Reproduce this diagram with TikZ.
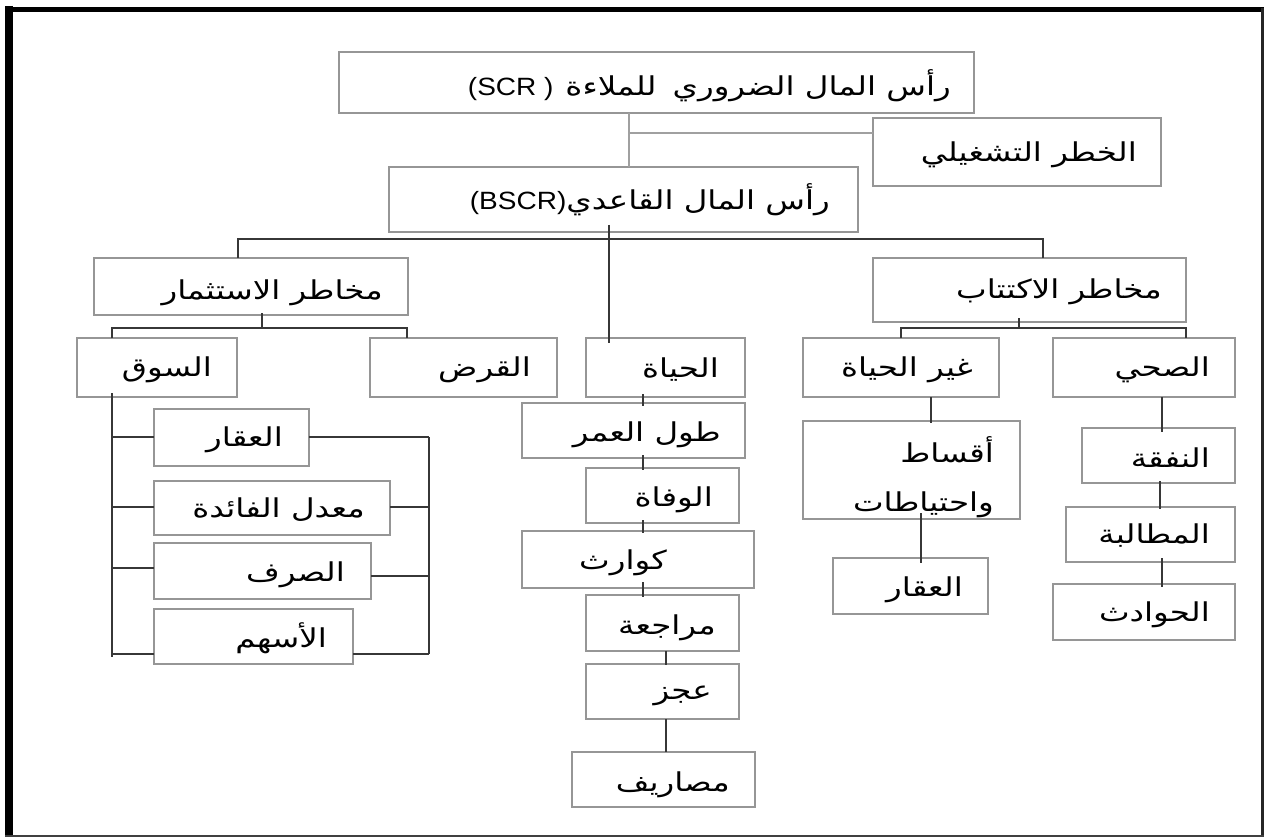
\documentclass[tikz,border=0pt]{standalone}
\usepackage{fontspec}
\newfontfamily\arabicfont[Script=Arabic, FakeStretch=1.25]{DejaVu Sans}
\newfontfamily\latinfont[Script=Latin, FakeStretch=1.12]{Liberation Sans}
\TeXXeTstate=1
\definecolor{boxgray}{RGB}{150,150,150}
\definecolor{linedark}{RGB}{55,55,55}
\definecolor{lightline}{RGB}{160,160,160}
\newcommand\mkbox[5]{\node[box, minimum width={(#4)-(#2)}, minimum height={(#5)-(#3)}] (#1) at ({((#2)+(#4))/2},{((#3)+(#5))/2}) {};}
\newcommand\ar[1]{\beginR #1\endR}
\newcommand\arb[1]{{\arabicfont\fontsize{26}{30}\selectfont\beginR #1\endR}}
\tikzset{
  box/.style={draw=boxgray, line width=1.3pt, inner sep=0pt, outer sep=0pt, fill=white},
  conn/.style={draw=linedark, line width=2.2pt},
  thinconn/.style={draw=lightline, line width=1.1pt},
  lbl/.style={font=\arabicfont\fontsize{26}{30}\selectfont, inner sep=0pt, anchor=east, text=black},
  mixlbl/.style={lbl, font=\latinfont\fontsize{25}{30}\selectfont}
}
\begin{document}
\begin{tikzpicture}[x=1pt,y=-1pt]
\useasboundingbox (0,0) rectangle (1264,837);
\fill[white] (0,0) rectangle (1264,837);
% frame
\draw[line width=8pt, black] (9,6) -- (9,837);
\draw[line width=5pt, black] (5,9.5) -- (1264,9.5);
\draw[line width=3pt, black!85] (1262.5,8) -- (1262.5,837);
\draw[line width=2pt, black!75] (5,836) -- (1264,836);

% boxes
\mkbox{scr}{339}{52}{974}{113}
\mkbox{opr}{873}{118}{1161}{186}
\mkbox{bscr}{389}{167}{858}{232}
\mkbox{inv}{94}{258}{408}{315}
\mkbox{und}{873}{258}{1186}{322}
\mkbox{mkt}{77}{338}{237}{397}
\mkbox{crd}{370}{338}{557}{397}
\mkbox{life}{586}{338}{745}{397}
\mkbox{nonlife}{803}{338}{999}{397}
\mkbox{health}{1053}{338}{1235}{397}
\mkbox{reA}{154}{409}{309}{466}
\mkbox{irate}{154}{481}{390}{535}
\mkbox{fx}{154}{543}{371}{599}
\mkbox{eq}{154}{609}{353}{664}
\mkbox{lon}{522}{403}{745}{458}
\mkbox{mort}{586}{468}{739}{523}
\mkbox{cat}{522}{531}{754}{588}
\mkbox{rev}{586}{595}{739}{651}
\mkbox{dis}{586}{664}{739}{719}
\mkbox{expn}{572}{752}{755}{807}
\mkbox{prem}{803}{421}{1020}{519}
\mkbox{reB}{833}{558}{988}{614}
\mkbox{fee}{1082}{428}{1235}{483}
\mkbox{claim}{1066}{507}{1235}{562}
\mkbox{acc}{1053}{584}{1235}{640}

% texts
\node[mixlbl] at (951,86) {(SCR\char"00A0)\hspace{12pt}\arb{رأس المال الضروري\hspace{16pt}للملاءة}};
\node[lbl] at (1137,155) {\ar{الخطر التشغيلي}};
\node[mixlbl] at (830,200) {(BSCR)\arb{رأس المال القاعدي}};
\node[lbl] at (383,293) {\ar{مخاطر الاستثمار}};
\node[lbl] at (1162,292) {\ar{مخاطر الاكتتاب}};
\node[lbl] at (212,370) {\ar{السوق}};
\node[lbl] at (531,370) {\ar{القرض}};
\node[lbl] at (719,370) {\ar{الحياة}};
\node[lbl] at (973,370) {\ar{غير الحياة}};
\node[lbl] at (1210,370) {\ar{الصحي}};
\node[lbl] at (283,440) {\ar{العقار}};
\node[lbl] at (365,510) {\ar{معدل  الفائدة}};
\node[lbl] at (345,575) {\ar{الصرف}};
\node[lbl] at (327,638) {\ar{الأسهم}};
\node[lbl] at (721,435) {\ar{طول العمر}};
\node[lbl] at (713,500) {\ar{الوفاة}};
\node[lbl] at (667,563) {\ar{كوارث}};
\node[lbl] at (716,628) {\ar{مراجعة}};
\node[lbl] at (712,696) {\ar{عجز}};
\node[lbl] at (730,785) {\ar{مصاريف}};
\node[lbl, align=right, font=\arabicfont\fontsize{26}{49}\selectfont] at (994,477) {\ar{أقساط}\\\ar{واحتياطات}};
\node[lbl] at (963,590) {\ar{العقار}};
\node[lbl] at (1210,458) {\ar{النفقة}};
\node[lbl] at (1210,536) {\ar{المطالبة}};
\node[lbl] at (1210,615) {\ar{الحوادث}};

% top thin connectors
\coordinate (j0) at (629,133);
\draw[thinconn] (scr.south -| j0) -- (bscr.north -| j0);
\draw[thinconn] (j0) -- (j0 -| opr.west);

% main branch
\coordinate (j1) at (609,239);
\coordinate (ja) at (238,239);
\coordinate (jb) at (1043,239);
\draw[conn] ([yshift=7pt]bscr.south -| j1) -- ([yshift=-5pt]life.north -| j1);
\draw[conn] (inv.north -| ja) -- (ja) -- (jb) -- (und.north -| jb);

% investment
\coordinate (jc) at (262,328);
\coordinate (jc1) at (112,328);
\coordinate (jc2) at (407,328);
\draw[conn] ([yshift=2pt]inv.south -| jc) -- (jc);
\draw[conn] (mkt.north -| jc1) -- (jc1) -- (jc2) -- (crd.north -| jc2);

% market buses
\coordinate (bl) at (112,0);
\coordinate (br) at (429,0);
\coordinate (ya) at (0,437);
\coordinate (yb) at (0,507);
\coordinate (ycl) at (0,568);
\coordinate (ycr) at (0,576);
\coordinate (yd) at (0,654);
\draw[conn] ([yshift=4pt]mkt.south -| bl) -- ([yshift=-3pt]bl |- yd);
\draw[conn] (bl |- ya) -- (reA.west |- ya);
\draw[conn] (bl |- yb) -- (irate.west |- yb);
\draw[conn] (bl |- ycl) -- (fx.west |- ycl);
\draw[conn] (bl |- yd) -- (eq.west |- yd);
\draw[conn] (br |- ya) -- (br |- yd);
\draw[conn] (reA.east |- ya) -- (br |- ya);
\draw[conn] (irate.east |- yb) -- (br |- yb);
\draw[conn] (fx.east |- ycr) -- (br |- ycr);
\draw[conn] (eq.east |- yd) -- (br |- yd);

% underwriting
\coordinate (jd) at (1019,328);
\coordinate (jd1) at (901,328);
\coordinate (jd2) at (1186,328);
\draw[conn] ([yshift=4pt]und.south -| jd) -- (jd);
\draw[conn] (nonlife.north -| jd1) -- (jd1) -- (jd2) -- (health.north -| jd2);

% life chain
\coordinate (xl) at (643,0);
\coordinate (xm) at (666,0);
\draw[conn] ([yshift=3pt]life.south -| xl) -- ([yshift=-3pt]lon.north -| xl);
\draw[conn] ([yshift=3pt]lon.south -| xl) -- ([yshift=-2pt]mort.north -| xl);
\draw[conn] ([yshift=3pt]mort.south -| xl) -- ([yshift=-2pt]cat.north -| xl);
\draw[conn] ([yshift=6pt]cat.south -| xl) -- ([yshift=-2pt]rev.north -| xl);
\draw[conn] (rev.south -| xm) -- ([yshift=-1pt]dis.north -| xm);
\draw[conn] (dis.south -| xm) -- (expn.north -| xm);

% non-life chain
\coordinate (xn) at (931,0);
\coordinate (xp) at (921,0);
\draw[conn] (nonlife.south -| xn) -- ([yshift=-2pt]prem.north -| xn);
\draw[conn] ([yshift=6pt]prem.south -| xp) -- ([yshift=-5pt]reB.north -| xp);

% health chain
\coordinate (xh) at (1162,0);
\coordinate (xh2) at (1160,0);
\draw[conn] (health.south -| xh) -- ([yshift=-4pt]fee.north -| xh);
\draw[conn] ([yshift=2pt]fee.south -| xh2) -- ([yshift=-2pt]claim.north -| xh2);
\draw[conn] ([yshift=4pt]claim.south -| xh) -- ([yshift=-3pt]acc.north -| xh);
\end{tikzpicture}
\end{document}
